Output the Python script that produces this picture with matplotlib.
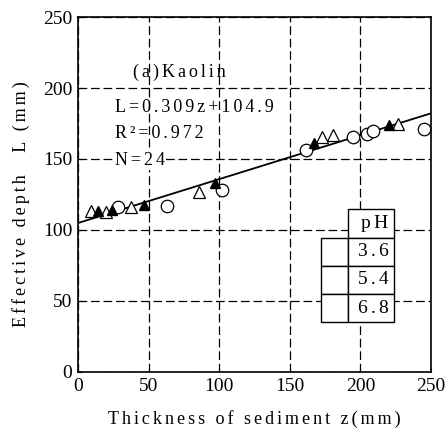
import numpy as np
import matplotlib
matplotlib.use("Agg")
from matplotlib import pyplot as plt

plt.rcParams['font.family'] = ['Liberation Serif', 'DejaVu Serif']

# pH 3.6 (filled triangles)
z_ph36 = [14.4, 23.8, 46.7, 97.0, 167.1, 220.5]
L_ph36 = [113.6, 114.0, 117.6, 132.9, 161.0, 174.0]
# pH 5.4 (open triangles)
z_ph54 = [9.0, 19.8, 37.3, 86.0, 172.6, 180.8, 226.4]
L_ph54 = [113.4, 113.0, 116.4, 127.0, 165.7, 166.9, 174.6]
# pH 6.8 (open circles)
z_ph68 = [28.6, 62.8, 101.8, 161.3, 195.0, 204.5, 209.1, 245.0]
L_ph68 = [116.4, 117.1, 128.2, 156.3, 165.7, 167.6, 169.7, 171.1]

slope, intercept = 0.309, 104.9
ph_labels = ["3.6", "5.4", "6.8"]
ticks = [0, 50, 100, 150, 200, 250]


def spaced(s, sp="\u200a\u200a"):
    return sp.join(s)


fig = plt.figure(figsize=(4.47, 4.32), dpi=100)
ax = fig.add_axes([0.1745, 0.139, 0.7895, 0.8216])

zfit = np.array([0, 250])
ax.plot(zfit, slope * zfit + intercept, color="black", lw=1.3, zorder=3)

ax.plot(z_ph54, L_ph54, linestyle="none", marker="^", ms=8.5, mfc="white",
        mec="black", mew=0.9, zorder=4)
ax.plot(z_ph68, L_ph68, linestyle="none", marker="o", ms=9, mfc="white",
        mec="black", mew=0.9, zorder=4)
ax.plot(z_ph36, L_ph36, linestyle="none", marker="^", ms=6.5, mfc="black",
        mec="black", zorder=5)

ax.set_xlim(0, 250)
ax.set_ylim(0, 250)
ax.set_xticks(ticks)
ax.set_yticks(ticks)
ax.tick_params(direction="in", length=3, labelsize=14, pad=4)
ax.grid(True, color="black", linestyle=(0, (7, 3)), lw=0.9)
for sp in ax.spines.values():
    sp.set_linewidth(1.2)

ax.set_xlabel(spaced("Thickness of sediment z(mm)"), fontsize=13, labelpad=11)
ax.set_ylabel(spaced("Effective depth") + "     " + spaced("L (mm)"),
              fontsize=13, labelpad=9.5)
ax.yaxis.label.set_y(0.473)

ax.text(39, 211, spaced("(a)Kaolin"), fontsize=13, va="center")
ax.text(26, 186, spaced("L=0.309z+104.9"), fontsize=13, va="center")
ax.text(26, 168, spaced("R\u00b2=0.972"), fontsize=13, va="center")
ax.text(26, 149, spaced("N=24"), fontsize=13, va="center",
        bbox=dict(facecolor="white", edgecolor="none", pad=0.5))

cells = [["", "pH"]] + [["", p] for p in ph_labels]
tab = ax.table(cellText=cells, colWidths=[0.078, 0.129], cellLoc="right",
               bbox=[0.6875, 0.140, 0.2075, 0.318], zorder=6)
tab.auto_set_font_size(False)
for (r, c), cell in tab.get_celld().items():
    cell.set_linewidth(1.0)
    cell.get_text().set_fontsize(14)
    cell.get_text().set_text(spaced(cell.get_text().get_text()))
    cell.PAD = 0.12
    if r == 0 and c == 0:
        cell.visible_edges = ""
        cell.set_facecolor("none")

fig.savefig("out.png", dpi=100)
